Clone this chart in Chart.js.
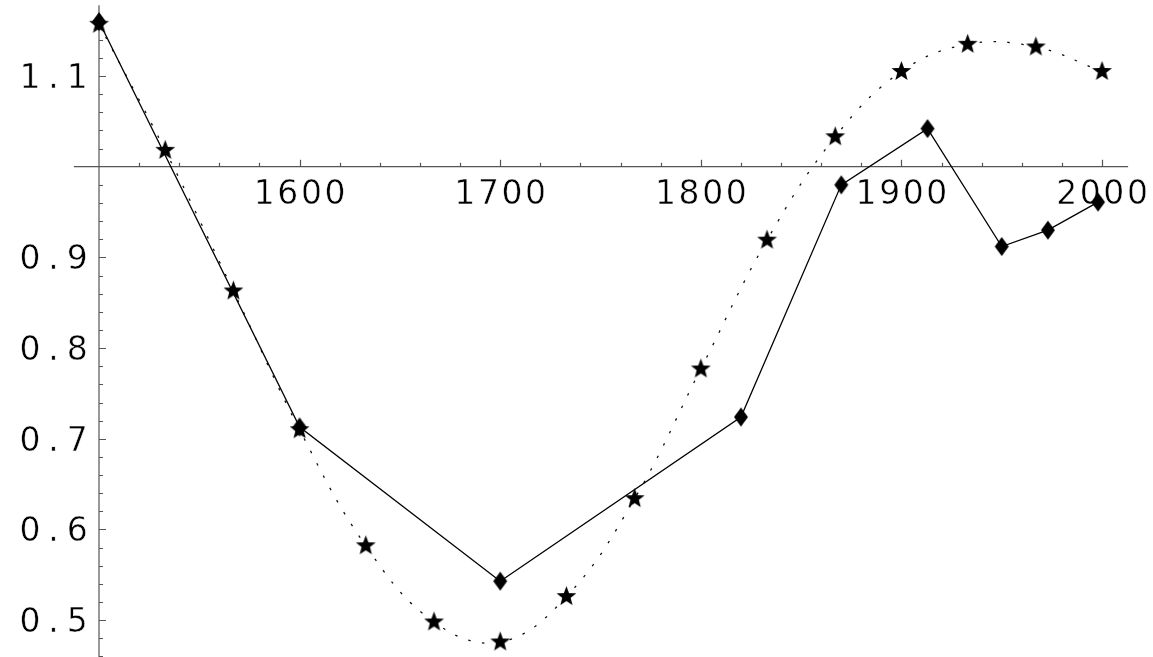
<!DOCTYPE html>
<html>
<head>
<meta charset="utf-8">
<script src="https://cdn.jsdelivr.net/npm/chart.js@4.4.1/dist/chart.umd.min.js"></script>
<style>
  html, body { margin: 0; padding: 0; background: #fff; }
  canvas { display: block; }
</style>
</head>
<body>
<canvas id="plot" width="1153" height="657"></canvas>
<script>
// Solid series (diamonds)
const diamondYears  = [1500, 1600, 1700, 1820, 1870, 1913, 1950, 1973, 1998];
const diamondValues = [1.160, 0.713, 0.543, 0.724, 0.980, 1.042, 0.912, 0.930, 0.961];

// Dotted, smoothed series (stars)
const starYears  = [1500, 1533, 1567, 1600, 1633, 1667, 1700, 1733, 1767, 1800, 1833, 1867, 1900, 1933, 1967, 2000];
const starValues = [1.157, 1.018, 0.863, 0.710, 0.582, 0.498, 0.476, 0.526, 0.634, 0.777, 0.919, 1.033, 1.105, 1.135, 1.132, 1.105];

// Axis ticks
const xTickLabels = [1600, 1700, 1800, 1900, 2000];
const yTickLabels = [0.5, 0.6, 0.7, 0.8, 0.9, 1.1];
const xMinorStep = 20;
const yMinorStep = 0.02;

// Where the two axes cross
const axisOrigin = { x: 1500, y: 1.0 };

function makeStar(r, inner) {
  const size = Math.ceil(r * 2) + 2;
  const c = document.createElement('canvas');
  c.width = size; c.height = size;
  const g = c.getContext('2d');
  const cx = size / 2, cy = size / 2;
  g.beginPath();
  for (let i = 0; i < 10; i++) {
    const rad = i % 2 === 0 ? r : inner;
    const a = -Math.PI / 2 + i * Math.PI / 5;
    const px = cx + rad * Math.cos(a), py = cy + rad * Math.sin(a);
    if (i === 0) g.moveTo(px, py); else g.lineTo(px, py);
  }
  g.closePath();
  g.fillStyle = '#000';
  g.fill();
  return c;
}

function makeDiamond(w, h) {
  const c = document.createElement('canvas');
  c.width = w + 2; c.height = h + 2;
  const g = c.getContext('2d');
  const cx = c.width / 2, cy = c.height / 2;
  g.beginPath();
  g.moveTo(cx, cy - h / 2);
  g.lineTo(cx + w / 2, cy);
  g.lineTo(cx, cy + h / 2);
  g.lineTo(cx - w / 2, cy);
  g.closePath();
  g.fillStyle = '#000';
  g.fill();
  return c;
}

const starMark = makeStar(10.4, 4.4);
const diamondMark = makeDiamond(14, 19);

// Draws the crossing axes, tick marks and tick labels from the chart's scales
const crossAxes = {
  id: 'crossAxes',
  beforeDatasetsDraw(chart) {
    const { ctx } = chart;
    const xs = chart.scales.x, ys = chart.scales.y;
    const ox = xs.getPixelForValue(axisOrigin.x);
    const oy = ys.getPixelForValue(axisOrigin.y);
    const xStart = 1487.5, xEnd = 2013;
    const yStart = ys.min, yEnd = 1.178;

    ctx.save();
    ctx.strokeStyle = '#555';
    ctx.lineWidth = 1.2;

    // axis lines
    ctx.beginPath();
    ctx.moveTo(xs.getPixelForValue(xStart), oy);
    ctx.lineTo(xs.getPixelForValue(xEnd), oy);
    ctx.moveTo(ox, ys.getPixelForValue(yStart));
    ctx.lineTo(ox, ys.getPixelForValue(yEnd));
    ctx.stroke();

    // x ticks (pointing up)
    ctx.beginPath();
    for (let v = 1500 + xMinorStep; v <= xEnd; v += xMinorStep) {
      const px = Math.round(xs.getPixelForValue(v)) + 0.5;
      const len = (v % 100 === 0) ? 7 : 4;
      ctx.moveTo(px, oy);
      ctx.lineTo(px, oy - len);
    }
    // y ticks (pointing right)
    for (let k = Math.ceil(yStart / yMinorStep); k * yMinorStep <= yEnd; k++) {
      const v = k * yMinorStep;
      if (Math.abs(v - axisOrigin.y) < 1e-9) continue;
      const py = Math.round(ys.getPixelForValue(v)) + 0.5;
      const len = (k % 5 === 0) ? 7 : 4;
      ctx.moveTo(ox, py);
      ctx.lineTo(ox + len, py);
    }
    ctx.stroke();

    // tick labels, fixed-pitch characters, slightly thinned strokes
    const pitch = 23.6;
    ctx.font = '33px "DejaVu Sans", "Liberation Sans", sans-serif';
    ctx.textAlign = 'center';
    ctx.textBaseline = 'alphabetic';
    ctx.lineJoin = 'round';
    const drawText = (str, left, baseline) => {
      for (let i = 0; i < str.length; i++) {
        const cx = left + pitch * (i + 0.5);
        ctx.fillStyle = '#000';
        ctx.fillText(str[i], cx, baseline);
        ctx.strokeStyle = '#fff';
        ctx.lineWidth = 0.5;
        ctx.strokeText(str[i], cx, baseline);
      }
    };
    xTickLabels.forEach(v => {
      const s = String(v);
      const cx = xs.getPixelForValue(v);
      drawText(s, cx - pitch * s.length / 2, oy + 37);
    });
    yTickLabels.forEach(v => {
      const s = v.toFixed(1);
      const cy = ys.getPixelForValue(v);
      drawText(s, ox - 10 - pitch * s.length, cy + 12);
    });
    ctx.restore();
  }
};

const chart = new Chart(document.getElementById('plot'), {
  type: 'line',
  data: {
    datasets: [
      {
        label: 'diamonds',
        data: diamondYears.map((x, i) => ({ x, y: diamondValues[i] })),
        borderColor: '#000',
        borderWidth: 1.3,
        tension: 0,
        pointStyle: diamondMark,
        pointRadius: 8,
        pointHoverRadius: 8,
        fill: false,
        clip: false
      },
      {
        label: 'stars',
        data: starYears.map((x, i) => ({ x, y: starValues[i] })),
        borderColor: '#111',
        borderWidth: 1.3,
        borderDash: [2.5, 11.5],
        tension: 0.4,
        pointStyle: starMark,
        pointRadius: 9,
        pointHoverRadius: 9,
        fill: false,
        clip: false
      }
    ]
  },
  options: {
    responsive: false,
    animation: false,
    events: [],
    layout: { padding: 0, autoPadding: false },
    plugins: { legend: { display: false }, tooltip: { enabled: false } },
    scales: {
      x: { type: 'linear', display: false, min: 1450.65, max: 2025.4 },
      y: { type: 'linear', display: false, min: 0.4594, max: 1.1838 }
    }
  },
  plugins: [crossAxes]
});
</script>
</body>
</html>
